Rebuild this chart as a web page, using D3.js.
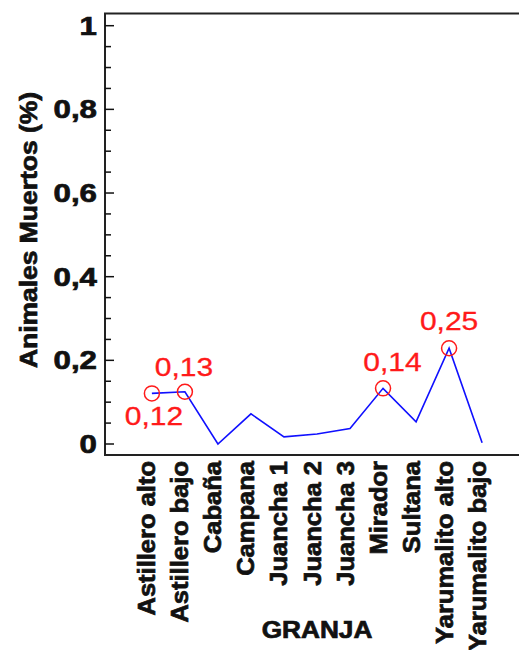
<!DOCTYPE html>
<html><head><meta charset="utf-8">
<script src="https://cdn.jsdelivr.net/npm/d3@7"></script>
<style>html,body{margin:0;padding:0;background:#fff;}svg{display:block;}</style>
</head><body>
<script>
// ---- data ----
const categories = ["Astillero alto","Astillero bajo","Cabaña","Campana","Juancha 1","Juancha 2","Juancha 3","Mirador","Sultana","Yarumalito alto","Yarumalito bajo"];
const values = [0.121, 0.125, 0.0, 0.072, 0.017, 0.024, 0.037, 0.133, 0.053, 0.229, 0.003];
const yTicks = [0, 0.2, 0.4, 0.6, 0.8, 1];
const yTickLabels = ["0", "0,2", "0,4", "0,6", "0,8", "1"];
const annotCats = ["Astillero alto","Astillero bajo","Mirador","Yarumalito alto"];
const annotTexts = ["0,12","0,13","0,14","0,25"];
const xTitle = "GRANJA";
const yTitle = "Animales Muertos (%)";

(function () {
// ---- layout ----
const W = 519, H = 650;
const mLeft = 105, mRight = 529, mTop = 13.5, mBottom = 455;
const svg = d3.select("body").append("svg").attr("width", W).attr("height", H);

const x = d3.scalePoint().domain(categories).range([mLeft, mRight]).padding(1.42);
const y = d3.scaleLinear().domain([0, 1]).range([444, 25.7]);

const font = "'Liberation Sans', Arial, sans-serif";
const heavy = sel => sel.attr("stroke", "#111").attr("stroke-width", 0.7).attr("paint-order", "stroke");

// frame
svg.append("rect").attr("x", mLeft).attr("y", mTop).attr("width", mRight - mLeft).attr("height", mBottom - mTop)
  .attr("fill", "none").attr("stroke", "#222").attr("stroke-width", 2);

// ticks (left inward, major + minor)
const minor = d3.range(0, 1.0001, 0.05);
svg.append("g").selectAll("line").data(minor).join("line")
  .attr("x1", mLeft).attr("x2", (d, i) => mLeft + (i % 4 === 0 ? 9 : 6))
  .attr("y1", d => y(d)).attr("y2", d => y(d))
  .attr("stroke", "#111").attr("stroke-width", 1.5);
// right side major ticks
svg.append("g").selectAll("line").data(yTicks).join("line")
  .attr("x1", mRight).attr("x2", mRight - 10)
  .attr("y1", d => y(d)).attr("y2", d => y(d))
  .attr("stroke", "#888").attr("stroke-width", 1.2);

// y tick labels
svg.append("g").selectAll("text").data(yTicks).join("text")
  .attr("transform", d => `translate(97,${y(d) + 9}) scale(1.25,1)`)
  .attr("text-anchor", "end").attr("font-family", font).attr("font-weight", "bold")
  .attr("font-size", 25).attr("fill", "#111").call(heavy)
  .text((d, i) => yTickLabels[i]);

// x labels
svg.append("g").selectAll("text").data(categories).join("text")
  .attr("transform", d => `translate(${x(d) + 3.5},461) rotate(-90) scale(1.11,1)`)
  .attr("text-anchor", "end").attr("font-family", font).attr("font-weight", "bold")
  .attr("font-size", 23).attr("fill", "#111").call(heavy)
  .text(d => d);

// axis titles
svg.append("text").attr("transform", `translate(317,638) scale(1.14,1)`)
  .attr("text-anchor", "middle").attr("font-family", font).attr("font-weight", "bold")
  .attr("font-size", 23).attr("fill", "#111").call(heavy).text(xTitle);
svg.append("text").attr("transform", `translate(37,230) rotate(-90) scale(1.15,1)`)
  .attr("text-anchor", "middle").attr("font-family", font).attr("font-weight", "bold")
  .attr("font-size", 23).attr("fill", "#111").call(heavy).text(yTitle);

// line
const line = d3.line().x((d, i) => x(categories[i])).y(d => y(d));
svg.append("path").datum(values).attr("d", line)
  .attr("fill", "none").attr("stroke", "#1010ff").attr("stroke-width", 1.6);

// annotation circles + labels
const annOffsets = [[2, 32], [-1, -16], [9.5, -17], [0, -18]];
const ann = svg.append("g");
annotCats.forEach((c, k) => {
  const i = categories.indexOf(c);
  const cx = x(c), cy = y(values[i]);
  ann.append("circle").attr("cx", cx).attr("cy", cy).attr("r", 7.5)
    .attr("fill", "none").attr("stroke", "#ff1a1a").attr("stroke-width", 1.5);
  ann.append("text")
    .attr("transform", `translate(${cx + annOffsets[k][0]},${cy + annOffsets[k][1]}) scale(1.2,1)`)
    .attr("text-anchor", "middle").attr("font-family", font).attr("font-size", 25)
    .attr("fill", "#ff1a1a").attr("stroke", "#ff1a1a").attr("stroke-width", 0.3)
    .text(annotTexts[k]);
});
})();
</script>
</body></html>
